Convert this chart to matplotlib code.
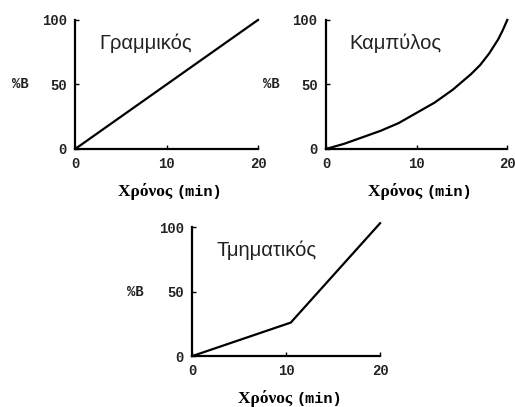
import numpy as np
import matplotlib
matplotlib.use("Agg")
from matplotlib import pyplot as plt

# data
lin_t = [0, 20]
lin_b = [0, 100]

curve_t = [0, 2, 4, 6, 8, 10, 12, 14, 15, 16, 17, 18, 19, 19.5, 20]
curve_b = [0, 4, 9, 14, 20, 28, 36, 46, 52, 58, 65, 74, 85, 92, 100]

step_t = [0, 10.5, 20]
step_b = [0, 26, 103]

titles = ["Γραμμικός", "Καμπύλος", "Τμηματικός"]
x_ticks = [0, 10, 20]
y_ticks = [0, 50, 100]

mono = "Liberation Mono"

fig = plt.figure(figsize=(5.15, 4.07), dpi=100)
fig.patch.set_facecolor("white")

# axes boxes (left, bottom, width, height) in figure fractions
boxes = [
    [0.146, 0.634, 0.355, 0.317],
    [0.633, 0.634, 0.352, 0.317],
    [0.373, 0.125, 0.365, 0.317],
]
series = [(lin_t, lin_b), (curve_t, curve_b), (step_t, step_b)]

for box, (t, b), title in zip(boxes, series, titles):
    ax = fig.add_axes(box)
    ax.plot(t, b, color="black", lw=1.6, clip_on=False, solid_joinstyle="round")
    ax.set_xlim(0, 20)
    ax.set_ylim(0, 100)
    for s in ["top", "right"]:
        ax.spines[s].set_visible(False)
    for s in ["left", "bottom"]:
        ax.spines[s].set_linewidth(1.6)
    ax.set_xticks(x_ticks)
    ax.set_yticks(y_ticks)
    ax.tick_params(direction="in", length=3, width=1, pad=6)
    for lab in ax.get_xticklabels() + ax.get_yticklabels():
        lab.set_fontfamily(mono)
        lab.set_fontweight("bold")
        lab.set_fontsize(10)
        lab.set_color("#222222")
    ax.text(0.13, 0.82, title, transform=ax.transAxes, fontsize=14.5,
            family="Liberation Sans", color="#222222", va="center")
    ax.text(-0.30, 0.5, "%B", transform=ax.transAxes, fontsize=10,
            family=mono, fontweight="bold", va="center", ha="center",
            color="#222222")
    # x label in two fonts
    ax.text(0.555, -0.33, "Χρόνος ", transform=ax.transAxes, fontsize=12.5,
            family="Liberation Serif", fontweight="bold", ha="right", va="center")
    ax.text(0.555, -0.33, "(min)", transform=ax.transAxes, fontsize=11,
            family=mono, fontweight="bold", ha="left", va="center")

fig.savefig("out.png", dpi=100)
